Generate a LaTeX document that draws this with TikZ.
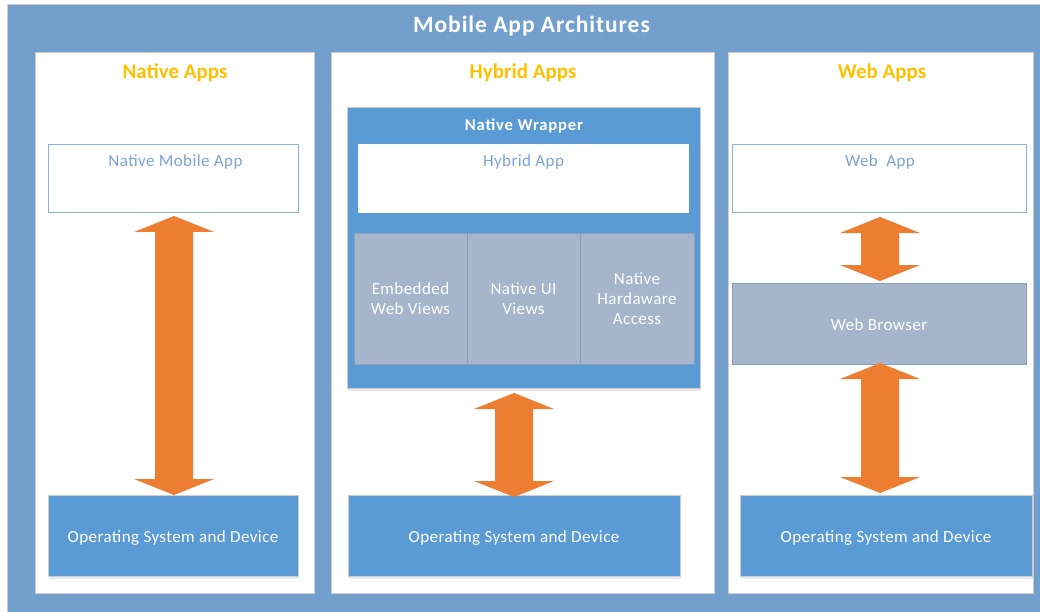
\documentclass[tikz,border=0pt]{standalone}
\usepackage{fontspec}
\setmainfont{Carlito}
\newfontfamily\spacedfont[LetterSpace=2.5]{Carlito}
\newfontfamily\titlefont[LetterSpace=4]{Carlito}
\newfontfamily\wrapfont[LetterSpace=5]{Carlito}
\usetikzlibrary{calc,shadows}
\definecolor{outerblue}{RGB}{115,159,204}
\definecolor{osblue}{RGB}{91,155,213}
\definecolor{grayblue}{RGB}{165,181,204}
\definecolor{grayedge}{RGB}{140,157,182}
\definecolor{arroworange}{RGB}{237,125,49}
\definecolor{gold}{RGB}{255,192,0}
\definecolor{lighttext}{RGB}{125,163,212}
\definecolor{lightedge}{RGB}{142,174,220}
\definecolor{paneledge}{RGB}{205,205,205}
\definecolor{shadowcol}{RGB}{120,140,170}
\newcommand{\dblockarrow}[2]{%
  \fill[arroworange] (#1) -- ++(40,16) -- ++(-21,0) -- ($(#2)+(19,-16)$) -- ++(21,0) -- (#2)
    -- ++(-40,-16) -- ++(21,0) -- ($(#1)+(-19,16)$) -- ++(-21,0) -- cycle;}
\begin{document}
\begin{tikzpicture}[x=1pt,y=-1pt,
  every node/.style={inner sep=0pt,outer sep=0pt},
  softshadow/.style={drop shadow={shadow xshift=1pt,shadow yshift=-3pt,opacity=0.18,fill=shadowcol}},
  panel/.style={rectangle,fill=white,draw=paneledge,line width=0.8pt},
  whitebox/.style={rectangle,fill=white,draw=lightedge,line width=0.8pt},
  osbox/.style={rectangle,softshadow,fill=osblue,draw=paneledge,line width=0.8pt,text=white,text height=14.4pt,text depth=0pt,font=\spacedfont\fontsize{17}{20}\selectfont},
  graybox/.style={rectangle,fill=grayblue,draw=grayedge,line width=0.8pt,text=white,align=center,font=\spacedfont\fontsize{17}{20}\selectfont},
  boxlabel/.style={anchor=base,text=lighttext,font=\spacedfont\fontsize{17}{20}\selectfont},
  paneltitle/.style={anchor=base,text=gold,font=\bfseries\fontsize{21}{24}\selectfont},
]
\useasboundingbox (0,0) rectangle (1040,612);
\fill[white] (0,0) rectangle (1040,612);
\node[rectangle,fill=outerblue,draw=paneledge,line width=1pt,minimum width=1035pt,minimum height=608pt] (outer) at (524.5,309) {};
\node[anchor=base,text=white,font=\titlefont\bfseries\fontsize{23.5}{26}\selectfont] (title) at (531.5,32.8) {Mobile App Architures};

% panels
\node[panel,minimum width=279pt,minimum height=541pt] (pnative) at (174.5,322.5) {};
\node[panel,minimum width=383pt,minimum height=541pt] (phybrid) at (522.5,322.5) {};
\node[panel,minimum width=305pt,minimum height=541pt] (pweb) at (880.5,322.5) {};
\node[paneltitle] (tnative) at (175,78.3) {Native Apps};
\node[paneltitle] (thybrid) at (523,78.3) {Hybrid Apps};
\node[paneltitle] (tweb) at (882,78.3) {Web Apps};

% native column
\node[whitebox,minimum width=250pt,minimum height=68pt] (nma) at (173,178) {};
\node[boxlabel] (nmat) at (175.5,166.7) {Native Mobile App};
\node[osbox,minimum width=250pt,minimum height=81pt] (os1) at (173,535.5) {Operating System and Device};

% hybrid column
\node[rectangle,softshadow,fill=osblue,draw=paneledge,line width=0.8pt,minimum width=353pt,minimum height=281pt] (wrap) at (523.5,247.5) {};
\node[anchor=base,text=white,font=\wrapfont\bfseries\fontsize{16.6}{20}\selectfont] (wrapt) at (524,130.7) {Native Wrapper};
\node[whitebox,draw=white,minimum width=330pt,minimum height=68pt] (hyb) at (523,178) {};
\node[boxlabel] (hybt) at (523.5,166.7) {Hybrid App};
\node[graybox,minimum width=113pt,minimum height=131pt] (g1) at (410.5,298.5) {Embedded\\Web Views};
\node[graybox,minimum width=113pt,minimum height=131pt] (g2) at (523.5,298.5) {Native UI\\Views};
\node[graybox,minimum width=114pt,minimum height=131pt] (g3) at (637,298.5) {Native\\Hardaware\\Access};
\node[osbox,minimum width=332pt,minimum height=81pt] (os2) at (514,535.5) {Operating System and Device};

% web column
\node[whitebox,minimum width=294pt,minimum height=68pt] (wapp) at (879,178) {};
\node[boxlabel] (wappt) at (880,166.5) {Web\ \ App};
\node[graybox,text height=13pt,text depth=0pt,minimum width=294pt,minimum height=81pt] (wb) at (879,323.5) {Web Browser};
\node[osbox,minimum width=292pt,minimum height=81pt] (os3) at (886,535.5) {Operating System and Device};

% arrows
\coordinate (a1t) at ($(nma.south)+(1,4)$);
\coordinate (a1b) at ($(os1.north)+(1,0)$);
\dblockarrow{a1t}{a1b}
\coordinate (a2t) at ($(os2.north |- wrap.south)+(0,5)$);
\coordinate (a2b) at ($(os2.north)+(0,2)$);
\dblockarrow{a2t}{a2b}
\coordinate (a3t) at ($(wapp.south)+(1,5)$);
\coordinate (a3b) at ($(wb.north)+(1,-2)$);
\dblockarrow{a3t}{a3b}
\coordinate (a4t) at ($(wb.south)+(1,-1)$);
\coordinate (a4b) at ($(os3.north -| wb.south)+(1,-2)$);
\dblockarrow{a4t}{a4b}
\end{tikzpicture}
\end{document}
